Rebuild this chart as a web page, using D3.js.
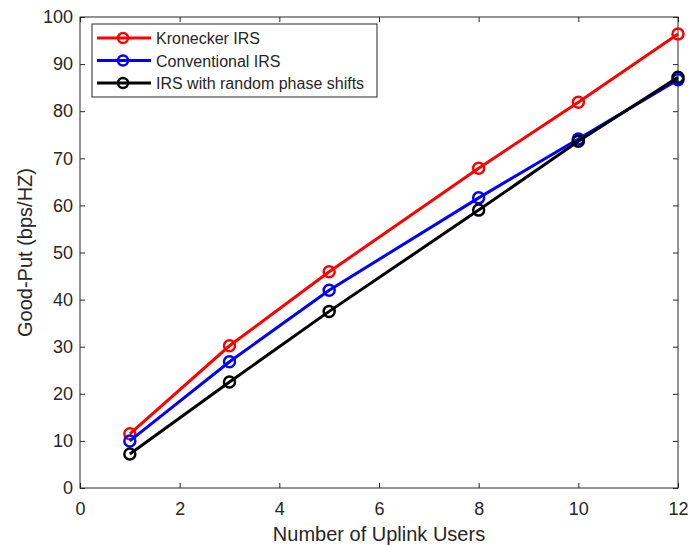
<!DOCTYPE html>
<html><head><meta charset="utf-8">
<script src="https://cdn.jsdelivr.net/npm/d3@7"></script>
<style>body{margin:0;background:#fff}svg{display:block}text{font-family:"Liberation Sans",Arial,sans-serif}</style>
</head><body>
<svg id="c" width="688" height="546"></svg>
<script>
const xValues = [1, 3, 5, 8, 10, 12];
const kronecker = [11.5, 30.2, 45.9, 67.9, 81.9, 96.4];
const conventional = [10.0, 26.8, 42.0, 61.6, 74.1, 86.7];
const randomPhase = [7.2, 22.5, 37.5, 59.0, 73.6, 87.2];
const seriesNames = ["Kronecker IRS", "Conventional IRS", "IRS with random phase shifts"];
const seriesColors = ["#ff0000", "#0000ff", "#000000"];
const xTicks = [0, 2, 4, 6, 8, 10, 12];
const yTicks = [0, 10, 20, 30, 40, 50, 60, 70, 80, 90, 100];

const svg = d3.select("#c");
const L = 80, R = 678, T = 17, B = 488;
const x = d3.scaleLinear().domain([0, 12]).range([L, R]);
const y = d3.scaleLinear().domain([0, 100]).range([B, T]);
const axisColor = "#262626";

svg.append("rect").attr("x", L).attr("y", T).attr("width", R - L).attr("height", B - T)
  .attr("fill", "none").attr("stroke", axisColor).attr("stroke-width", 1);

function styleAxis(g) {
  g.select(".domain").remove();
  g.selectAll(".tick line").attr("stroke", axisColor);
  g.selectAll(".tick text").attr("fill", axisColor).style("font-size", "18px");
}
svg.append("g").attr("transform", `translate(0,${B})`)
  .call(d3.axisBottom(x).tickValues(xTicks).tickSizeInner(-5).tickPadding(14).tickFormat(d3.format("d")))
  .call(styleAxis);
svg.append("g").attr("transform", `translate(0,${T})`)
  .call(d3.axisTop(x).tickValues(xTicks).tickSizeInner(-5).tickFormat(""))
  .call(styleAxis);
svg.append("g").attr("transform", `translate(${L},0)`)
  .call(d3.axisLeft(y).tickValues(yTicks).tickSizeInner(-5).tickPadding(7).tickFormat(d3.format("d")))
  .call(styleAxis);
svg.append("g").attr("transform", `translate(${R},0)`)
  .call(d3.axisRight(y).tickValues(yTicks).tickSizeInner(-5).tickFormat(""))
  .call(styleAxis);

svg.append("text").attr("x", (L + R) / 2).attr("y", 541).attr("text-anchor", "middle")
  .attr("fill", axisColor).style("font-size", "20px").text("Number of Uplink Users");
svg.append("text").attr("transform", `translate(32,${(T + B) / 2}) rotate(-90)`).attr("text-anchor", "middle")
  .attr("fill", axisColor).style("font-size", "20px").text("Good-Put (bps/HZ)");

const allSeries = [kronecker, conventional, randomPhase];
const line = d3.line().x((d, i) => x(xValues[i])).y(d => y(d));
allSeries.forEach((s, k) => {
  const g = svg.append("g");
  g.append("path").datum(s).attr("d", line).attr("fill", "none")
    .attr("stroke", seriesColors[k]).attr("stroke-width", 3);
  g.selectAll("circle").data(s).join("circle")
    .attr("cx", (d, i) => x(xValues[i])).attr("cy", d => y(d)).attr("r", 5.5)
    .attr("fill", "none").attr("stroke", seriesColors[k]).attr("stroke-width", 2.5);
});

const lg = svg.append("g");
lg.append("rect").attr("x", 92).attr("y", 24).attr("width", 285).attr("height", 73)
  .attr("fill", "#fff").attr("stroke", axisColor).attr("stroke-width", 1);
seriesNames.forEach((n, k) => {
  const yy = 38 + k * 22.5;
  lg.append("line").attr("x1", 97).attr("x2", 151).attr("y1", yy).attr("y2", yy)
    .attr("stroke", seriesColors[k]).attr("stroke-width", 3);
  lg.append("circle").attr("cx", 123).attr("cy", yy).attr("r", 5)
    .attr("fill", "none").attr("stroke", seriesColors[k]).attr("stroke-width", 2.5);
  lg.append("text").attr("x", 156).attr("y", yy + 6).attr("fill", axisColor)
    .style("font-size", "16px").text(n);
});
</script>
</body></html>
